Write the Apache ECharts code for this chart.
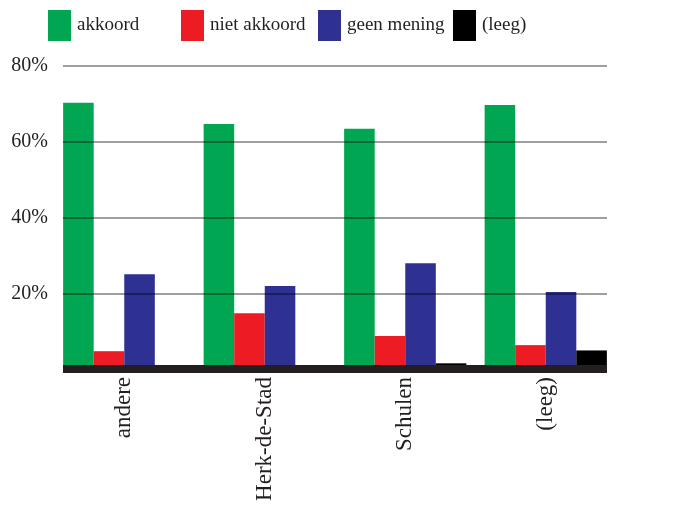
<!DOCTYPE html>
<html>
<head>
<meta charset="utf-8">
<script src="https://cdn.jsdelivr.net/npm/echarts@6/dist/echarts.min.js"></script>
<style>
  html, body { margin: 0; padding: 0; background: #fff; }
  #main { width: 698px; height: 513px; }
</style>
</head>
<body>
<div id="main"></div>
<script>
var categories = ['andere', 'Herk-de-Stad', 'Schulen', '(leeg)']
var akkoord = [70.3, 64.7, 63.4, 69.7]
var nietAkkoord = [4.7, 14.7, 8.7, 6.3]
var geenMening = [25.0, 21.9, 27.9, 20.3]
var leeg = [0.5, 0.5, 1.5, 4.9]
var yTicks = [0, 20, 40, 60, 80]

var seriesNames = ['akkoord', 'niet akkoord', 'geen mening', '(leeg)']
var colors = ['#00a651', '#ed1c24', '#2e3192', '#000000']
var font = "'Liberation Serif', 'DejaVu Serif', serif"
var ink = '#231f20'

var myChart = echarts.init(document.getElementById('main'))

// one legend per item, the gaps in the original are uneven
var legendLeft = [43, 176, 313, 448]
var legends = seriesNames.map(function (name, i) {
    return {
        data: [name],
        left: legendLeft[i],
        top: 5,
        icon: 'rect',
        itemWidth: 23,
        itemHeight: 31,
        itemGap: 0,
        textStyle: { fontFamily: font, fontSize: 19, color: ink, padding: [0, 0, 0, 1] }
    }
})

var bar = function (name, values, i) {
    return {
        type: 'bar',
        name: name,
        xAxisIndex: 1,
        yAxisIndex: 1,
        data: values,
        barGap: 0,
        barCategoryGap: '13%',
        itemStyle: { color: colors[i] },
        z: 2
    }
}

myChart.setOption({
    animation: false,
    backgroundColor: '#fff',
    legend: legends,
    grid: [
        // grid 0: gridlines, y labels and the thick base line
        { left: 63, right: 91, top: 66, bottom: 144 },
        // grid 1: bars and category labels
        { left: 54, right: 82, top: 66, bottom: 144 }
    ],
    xAxis: [
        {
            type: 'category',
            gridIndex: 0,
            data: categories,
            z: 5,
            axisLine: { show: true, lineStyle: { color: ink, width: 8, cap: 'butt' } },
            axisTick: { show: false },
            axisLabel: { show: false },
            splitLine: { show: false }
        },
        {
            type: 'category',
            gridIndex: 1,
            data: categories,
            axisLine: { show: false },
            axisTick: { show: false },
            splitLine: { show: false },
            axisLabel: {
                rotate: 90,
                margin: 8,
                interval: 0,
                fontFamily: font,
                fontSize: 23,
                color: ink
            }
        }
    ],
    yAxis: [
        {
            type: 'value',
            gridIndex: 0,
            min: yTicks[0],
            max: yTicks[yTicks.length - 1],
            interval: 20,
            z: 4,
            axisLine: { show: false },
            axisTick: { show: false },
            splitLine: { show: true, lineStyle: { color: 'rgba(0,0,0,0.5)', width: 1.5 } },
            axisLabel: {
                margin: 15,
                fontFamily: font,
                fontSize: 20,
                color: ink,
                formatter: function (v) { return v === 0 ? '' : v + '%' }
            }
        },
        {
            type: 'value',
            gridIndex: 1,
            min: yTicks[0],
            max: yTicks[yTicks.length - 1],
            interval: 20,
            show: false
        }
    ],
    series: [
        bar(seriesNames[0], akkoord, 0),
        bar(seriesNames[1], nietAkkoord, 1),
        bar(seriesNames[2], geenMening, 2),
        bar(seriesNames[3], leeg, 3)
    ]
})
</script>
</body>
</html>
